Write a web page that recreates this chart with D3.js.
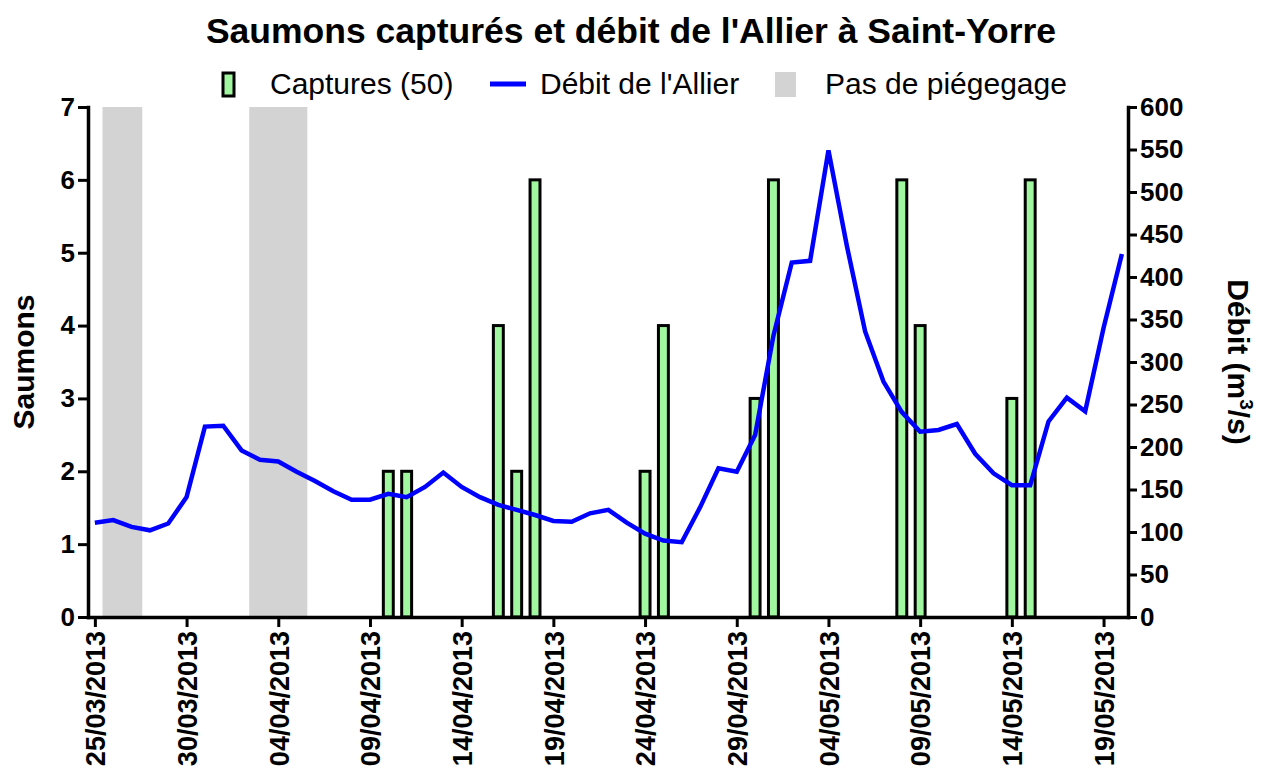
<!DOCTYPE html>
<html>
<head>
<meta charset="utf-8">
<script src="https://cdn.jsdelivr.net/npm/d3@7"></script>
<style>
    body { margin: 0; background: #fff; }
    text { font-family: "Liberation Sans", Arial, sans-serif; }
</style>
</head>
<body>
<svg id="mainSvg" width="1261" height="779"></svg>
<script>
// données
const flowStart = "25/03/2013";
const flowValues = [111, 114, 106, 102, 110, 141, 224, 225, 196, 185,
    183, 171, 160, 148, 138, 138, 145, 141, 153, 170,
    153, 141, 132, 126, 120, 113, 112, 122, 126, 111,
    98, 90, 88, 129, 175, 171, 214, 331, 417, 419,
    549, 437, 336, 277, 241, 218, 220, 227, 192, 169,
    155, 155, 230, 258, 242, 340, 427];
const captureDates = ["10/04/2013", "11/04/2013", "16/04/2013", "17/04/2013", "18/04/2013",
    "24/04/2013", "25/04/2013", "30/04/2013", "01/05/2013", "08/05/2013",
    "09/05/2013", "14/05/2013", "15/05/2013"];
const captureCounts = [2, 2, 4, 2, 6, 2, 4, 3, 6, 6, 4, 3, 6];
const noTrapPeriods = [["26/03/2013", "27/03/2013"], ["03/04/2013", "05/04/2013"]];
const xTickDates = ["25/03/2013", "30/03/2013", "04/04/2013", "09/04/2013", "14/04/2013", "19/04/2013",
    "24/04/2013", "29/04/2013", "04/05/2013", "09/05/2013", "14/05/2013", "19/05/2013"];
const leftTicks = [0, 1, 2, 3, 4, 5, 6, 7];
const rightTicks = [0, 50, 100, 150, 200, 250, 300, 350, 400, 450, 500, 550, 600];
const legendLabels = ["Captures (50)", "Débit de l'Allier", "Pas de piégegage"];

let svg = d3.select('#mainSvg');
const plot = {left: 88, right: 1128, top: 107, bottom: 617};
const green = "#a0f7a0", blue = "#0000ff", grey = "#d3d3d3";
const parse = d3.utcParse("%d/%m/%Y");

const x = d3.scaleUtc()
    .domain([d3.utcHour.offset(parse(flowStart), -9), d3.utcHour.offset(parse("20/05/2013"), 8)])
    .range([plot.left, plot.right]);
const yLeft = d3.scaleLinear().domain([0, 7]).range([plot.bottom, plot.top]);
const yRight = d3.scaleLinear().domain([0, 600]).range([plot.bottom, plot.top]);

/**
 * zones sans piégeage, barres et courbe
 */
const drawMarks = function () {
    svg.append("g").selectAll("rect").data(noTrapPeriods).join("rect")
        .attr("x", d => x(d3.utcHour.offset(parse(d[0]), -14)))
        .attr("width", d => x(d3.utcHour.offset(parse(d[1]), 14)) - x(d3.utcHour.offset(parse(d[0]), -14)))
        .attr("y", plot.top)
        .attr("height", plot.bottom - plot.top)
        .attr("fill", grey);

    const barW = x(d3.utcHour.offset(parse(flowStart), 13)) - x(parse(flowStart));
    svg.append("g").selectAll("rect").data(captureDates).join("rect")
        .attr("x", d => x(parse(d)) - barW / 2)
        .attr("width", barW)
        .attr("y", (d, i) => yLeft(captureCounts[i]))
        .attr("height", (d, i) => plot.bottom - yLeft(captureCounts[i]))
        .attr("fill", green)
        .attr("stroke", "black")
        .attr("stroke-width", 3);

    const line = d3.line()
        .x((d, i) => x(d3.utcDay.offset(parse(flowStart), i)))
        .y(d => yRight(d));
    svg.append("path")
        .datum(flowValues)
        .attr("d", line)
        .attr("fill", "none")
        .attr("stroke", blue)
        .attr("stroke-width", 4.5)
        .attr("stroke-linejoin", "miter");
};

/**
 * axes
 */
const styleAxis = function (g) {
    g.select(".domain").attr("stroke-width", 3.5).attr("stroke-linecap", "square");
    g.selectAll(".tick line").attr("stroke-width", 3);
    g.selectAll(".tick text")
        .attr("font-size", 26)
        .attr("font-weight", "bold")
        .attr("fill", "black");
};

const drawAxes = function () {
    svg.append("g")
        .attr("transform", `translate(0,${plot.bottom})`)
        .call(d3.axisBottom(x).tickValues(xTickDates.map(parse)).tickSize(10).tickSizeOuter(0)
            .tickFormat(d3.utcFormat("%d/%m/%Y")))
        .call(styleAxis)
        .call(g => g.selectAll(".tick text")
            .attr("font-size", 27)
            .attr("transform", "rotate(-90)")
            .attr("text-anchor", "end")
            .attr("x", -14)
            .attr("y", 0)
            .attr("dy", "0.36em"));

    svg.append("g")
        .attr("transform", `translate(${plot.left},0)`)
        .call(d3.axisLeft(yLeft).tickValues(leftTicks).tickFormat(d3.format("d"))
            .tickSize(10).tickSizeOuter(0).tickPadding(3))
        .call(styleAxis);

    svg.append("g")
        .attr("transform", `translate(${plot.right},0)`)
        .call(d3.axisRight(yRight).tickValues(rightTicks).tickFormat(d3.format("d"))
            .tickSize(9).tickSizeOuter(0).tickPadding(3))
        .call(styleAxis);

    svg.append("text")
        .text("Saumons")
        .attr("transform", `translate(34,${(plot.top + plot.bottom) / 2}) rotate(-90)`)
        .attr("text-anchor", "middle")
        .attr("font-size", 30)
        .attr("font-weight", "bold");

    const rt = svg.append("text")
        .attr("transform", `translate(1228,${(plot.top + plot.bottom) / 2}) rotate(90)`)
        .attr("text-anchor", "middle")
        .attr("font-size", 30)
        .attr("font-weight", "bold");
    rt.append("tspan").text("Débit (m");
    rt.append("tspan").text("3").attr("font-size", 19).attr("dy", -12);
    rt.append("tspan").text("/s)").attr("dy", 12);
};

/**
 * titre et légende
 */
const drawTitle = function () {
    svg.append("text")
        .text("Saumons capturés et débit de l'Allier à Saint-Yorre")
        .attr("x", 631)
        .attr("y", 43)
        .attr("text-anchor", "middle")
        .attr("font-size", 35.5)
        .attr("font-weight", "bold");

    const lg = svg.append("g");
    lg.append("rect").attr("x", 223).attr("y", 73).attr("width", 11).attr("height", 23)
        .attr("fill", green).attr("stroke", "black").attr("stroke-width", 3);
    lg.append("line").attr("x1", 490).attr("x2", 526).attr("y1", 84).attr("y2", 84)
        .attr("stroke", blue).attr("stroke-width", 5);
    lg.append("rect").attr("x", 775).attr("y", 72).attr("width", 21).attr("height", 25)
        .attr("fill", grey);
    const lx = [270, 540, 825];
    lg.selectAll("text").data(legendLabels).join("text")
        .text(d => d)
        .attr("x", (d, i) => lx[i])
        .attr("y", 94)
        .attr("font-size", 30);
};

function main() {
    drawMarks();
    drawAxes();
    drawTitle();
}

main();
</script>
</body>
</html>
